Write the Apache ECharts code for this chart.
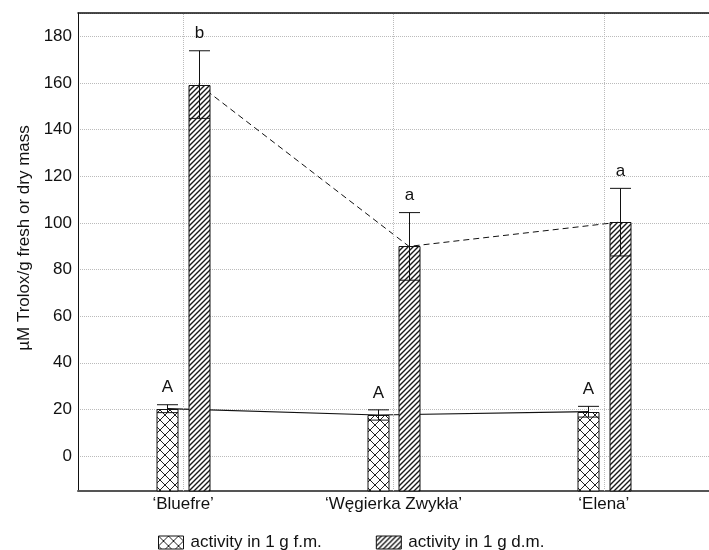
<!DOCTYPE html>
<html>
<head>
<meta charset="utf-8">
<script src="https://cdn.jsdelivr.net/npm/echarts@6/dist/echarts.min.js"></script>
<style>
html, body { margin: 0; padding: 0; background: #fff; }
#chart { width: 709px; height: 550px; }
</style>
</head>
<body>
<div id="chart"></div>
<script>
var categories = ['\u2018Bluefre\u2019', '\u2018W\u0119gierka Zwyk\u0142a\u2019', '\u2018Elena\u2019'];
var seriesNames = ['activity in 1 g f.m.', 'activity in 1 g d.m.'];
var freshMean = [20.3, 17.6, 19.0];
var freshErr = [1.7, 2.2, 2.3];
var dryMean = [159.3, 89.9, 100.3];
var dryErr = [14.5, 14.5, 14.5];
var freshLetters = ['A', 'A', 'A'];
var dryLetters = ['b', 'a', 'a'];
var yMin = -15, yMax = 190;

(function () {
    var chart = echarts.init(document.getElementById('chart'));
    var FONT = 'Liberation Sans, Arial, sans-serif';
    var FS = 17;
    var GRID_W = 640;
    var BAR_W = 21;
    var BAR_GAP = 0.5;
    var OFF = BAR_W * (1 + BAR_GAP) / 2;      // px from category centre to bar centre
    var OFF_UNITS = OFF / (GRID_W / categories.length);

    // hatch patterns
    function makeCross() {
        var c = document.createElement('canvas');
        c.width = 10; c.height = 10;
        var g = c.getContext('2d');
        g.fillStyle = '#fff'; g.fillRect(0, 0, 10, 10);
        g.strokeStyle = '#222'; g.lineWidth = 1;
        g.beginPath();
        g.moveTo(0, 0); g.lineTo(10, 10);
        g.moveTo(10, 0); g.lineTo(0, 10);
        g.stroke();
        return c;
    }
    function makeDiag() {
        var c = document.createElement('canvas');
        c.width = 5; c.height = 5;
        var g = c.getContext('2d');
        g.fillStyle = '#fff'; g.fillRect(0, 0, 5, 5);
        g.strokeStyle = '#1a1a1a'; g.lineWidth = 1.4;
        g.beginPath();
        g.moveTo(-1, 6); g.lineTo(6, -1);
        g.moveTo(-1, 1); g.lineTo(1, -1);
        g.moveTo(4, 6); g.lineTo(6, 4);
        g.stroke();
        return c;
    }
    var crossPat = { image: makeCross(), repeat: 'repeat' };
    var diagPat = { image: makeDiag(), repeat: 'repeat' };

    // bar from axis bottom + error bar + letter
    function barItem(sign, letters, pattern) {
        return function (params, api) {
            var idx = api.value(0);
            var mean = api.value(1);
            var err = api.value(2);
            var c = api.coord([idx, mean]);
            var base = api.coord([idx, yMin]);
            var hi = api.coord([idx, mean + err]);
            var lo = api.coord([idx, mean - err]);
            var x = Math.round(c[0] + sign * OFF) + 0.5;
            var hw = BAR_W / 2;
            var st = { stroke: '#111', lineWidth: 1 };
            var top = Math.round(c[1]) + 0.5;
            return {
                type: 'group',
                children: [
                    { type: 'rect', shape: { x: x - hw, y: top, width: BAR_W, height: base[1] - top },
                        style: { fill: pattern, stroke: '#111', lineWidth: 1 } },
                    { type: 'line', shape: { x1: x, y1: lo[1], x2: x, y2: hi[1] }, style: st },
                    { type: 'line', shape: { x1: x - hw, y1: hi[1], x2: x + hw, y2: hi[1] }, style: st },
                    { type: 'line', shape: { x1: x - hw, y1: lo[1], x2: x + hw, y2: lo[1] }, style: st },
                    { type: 'text', style: { text: letters[params.dataIndex], x: x, y: hi[1] - 17,
                        align: 'center', verticalAlign: 'middle', font: FS + 'px ' + FONT, fill: '#111' } }
                ]
            };
        };
    }

    var option = {
        animation: false,
        textStyle: { fontFamily: FONT },
        grid: { left: 78, top: 13, width: GRID_W, height: 478 },
        legend: {
            data: [
                { name: seriesNames[0], itemStyle: { color: crossPat, borderColor: '#111', borderWidth: 1 } },
                { name: seriesNames[1], itemStyle: { color: diagPat, borderColor: '#111', borderWidth: 1 } }
            ],
            left: 158,
            top: 534,
            padding: 0,
            itemWidth: 25,
            itemHeight: 13,
            itemGap: 54,
            icon: 'rect',
            textStyle: { fontSize: FS, color: '#111', fontFamily: FONT, padding: [0, 0, 0, 2] }
        },
        xAxis: [
            {
                type: 'category',
                data: categories,
                boundaryGap: true,
                axisLine: { onZero: false, lineStyle: { color: '#555', width: 2 } },
                axisTick: { inside: true, alignWithLabel: true, length: 5, lineStyle: { color: '#555' } },
                axisLabel: { fontSize: FS, color: '#111', margin: 5, fontFamily: FONT },
                splitLine: { show: false }
            },
            {
                type: 'category',
                data: categories,
                position: 'top',
                boundaryGap: true,
                axisLine: { onZero: false, lineStyle: { color: '#111', width: 1.5 } },
                axisTick: { inside: true, alignWithLabel: true, length: 5, lineStyle: { color: '#555' } },
                axisLabel: { show: false },
                splitLine: { show: false }
            },
            {
                type: 'value',
                min: 0.5,
                max: 0.5 + categories.length,
                show: false
            }
        ],
        yAxis: {
            type: 'value',
            min: yMin,
            max: yMax,
            splitNumber: 10,
            name: '\u00b5M Trolox/g fresh or dry mass',
            nameLocation: 'middle',
            nameGap: 45,
            nameTextStyle: { fontSize: FS, color: '#111', fontFamily: FONT, padding: [0, 0, 0, 28] },
            axisLine: { show: true, onZero: false, lineStyle: { color: '#111', width: 1 } },
            axisTick: { show: false },
            axisLabel: {
                fontSize: FS, color: '#111', margin: 6, fontFamily: FONT,
                formatter: function (v) { return v % 20 === 0 ? String(v) : ''; }
            },
            splitLine: { lineStyle: { color: '#bbb', type: 'dotted', width: 1 } }
        },
        series: [
            {
                name: 'fresh trend',
                type: 'line',
                xAxisIndex: 2,
                z: 1,
                symbol: 'none',
                data: freshMean.map(function (v, i) { return [i + 1 - OFF_UNITS, v]; }),
                lineStyle: { color: '#111', width: 1.2 },
                markLine: {
                    silent: true,
                    symbol: 'none',
                    label: { show: false },
                    lineStyle: { color: '#bbb', type: 'dotted', width: 1 },
                    data: categories.map(function (c, i) { return { xAxis: i + 1 }; })
                }
            },
            {
                name: 'dry trend',
                type: 'line',
                xAxisIndex: 2,
                z: 1,
                symbol: 'none',
                data: dryMean.map(function (v, i) { return [i + 1 + OFF_UNITS, v]; }),
                lineStyle: { color: '#111', width: 1, type: [6, 4] }
            },
            {
                name: seriesNames[0],
                type: 'custom',
                z: 3,
                itemStyle: { color: crossPat, borderColor: '#111', borderWidth: 1 },
                encode: { x: 0, y: 1 },
                renderItem: barItem(-1, freshLetters, crossPat),
                data: freshMean.map(function (v, i) { return [i, v, freshErr[i]]; })
            },
            {
                name: seriesNames[1],
                type: 'custom',
                z: 3,
                itemStyle: { color: diagPat, borderColor: '#111', borderWidth: 1 },
                encode: { x: 0, y: 1 },
                renderItem: barItem(1, dryLetters, diagPat),
                data: dryMean.map(function (v, i) { return [i, v, dryErr[i]]; })
            }
        ]
    };

    chart.setOption(option);
})();
</script>
</body>
</html>
